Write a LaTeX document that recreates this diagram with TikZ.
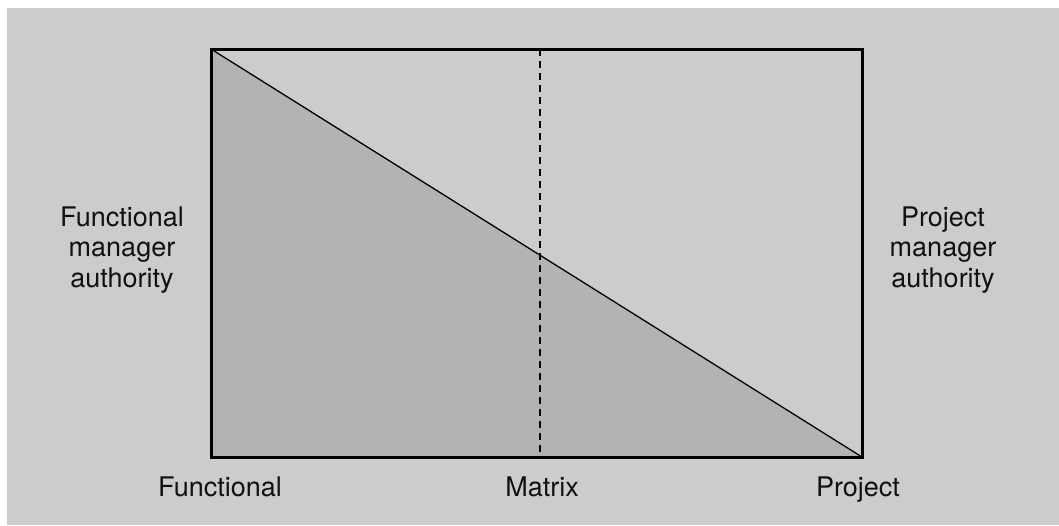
\documentclass[tikz,border=0pt]{standalone}
\usepackage{fontspec}
\setmainfont{TeX Gyre Heros}
\usetikzlibrary{positioning}
\definecolor{paper}{HTML}{CCCCCC}
\definecolor{share}{HTML}{B3B3B3}
\definecolor{ink}{HTML}{111111}

\begin{document}
\begin{tikzpicture}[x=1pt, y=-1pt,
    lbl/.style={font=\fontsize{27}{30.5}\selectfont, text=ink, align=center, inner sep=0pt},
    frame/.style={draw=black, line width=3pt},
    split/.style={black, line width=2.5pt, dash pattern=on 7pt off 5pt}]

  \useasboundingbox (0,0) rectangle (1059,525);
  \fill[paper] (7,8) rectangle (1059,525);

  % Corners of the authority box.
  \coordinate (tl) at (211,49);
  \coordinate (tr) at (862,49);
  \coordinate (bl) at (211,457);
  \coordinate (br) at (862,457);
  \coordinate (mt) at (540,49);
  \coordinate (mb) at (540,457);

  % Functional share below the diagonal.
  \fill[share] (tl) -- (br) -- (bl) -- cycle;
  \draw[black, line width=1.3pt] (tl) -- (br);
  \draw[split] (mt) -- (mb);
  \draw[frame] (tl) rectangle (br);

  % Side and axis labels.
  \node[lbl] (fma) at (122,250) {Functional\\manager\\authority};
  \node[lbl] (pma) at (943,250) {Project\\manager\\authority};
  \node[lbl, anchor=base] (fun) at (220,496) {Functional};
  \node[lbl, anchor=base] (mat) at (542,496) {Matrix};
  \node[lbl, anchor=base] (pro) at (858,496) {Project};
\end{tikzpicture}
\end{document}
